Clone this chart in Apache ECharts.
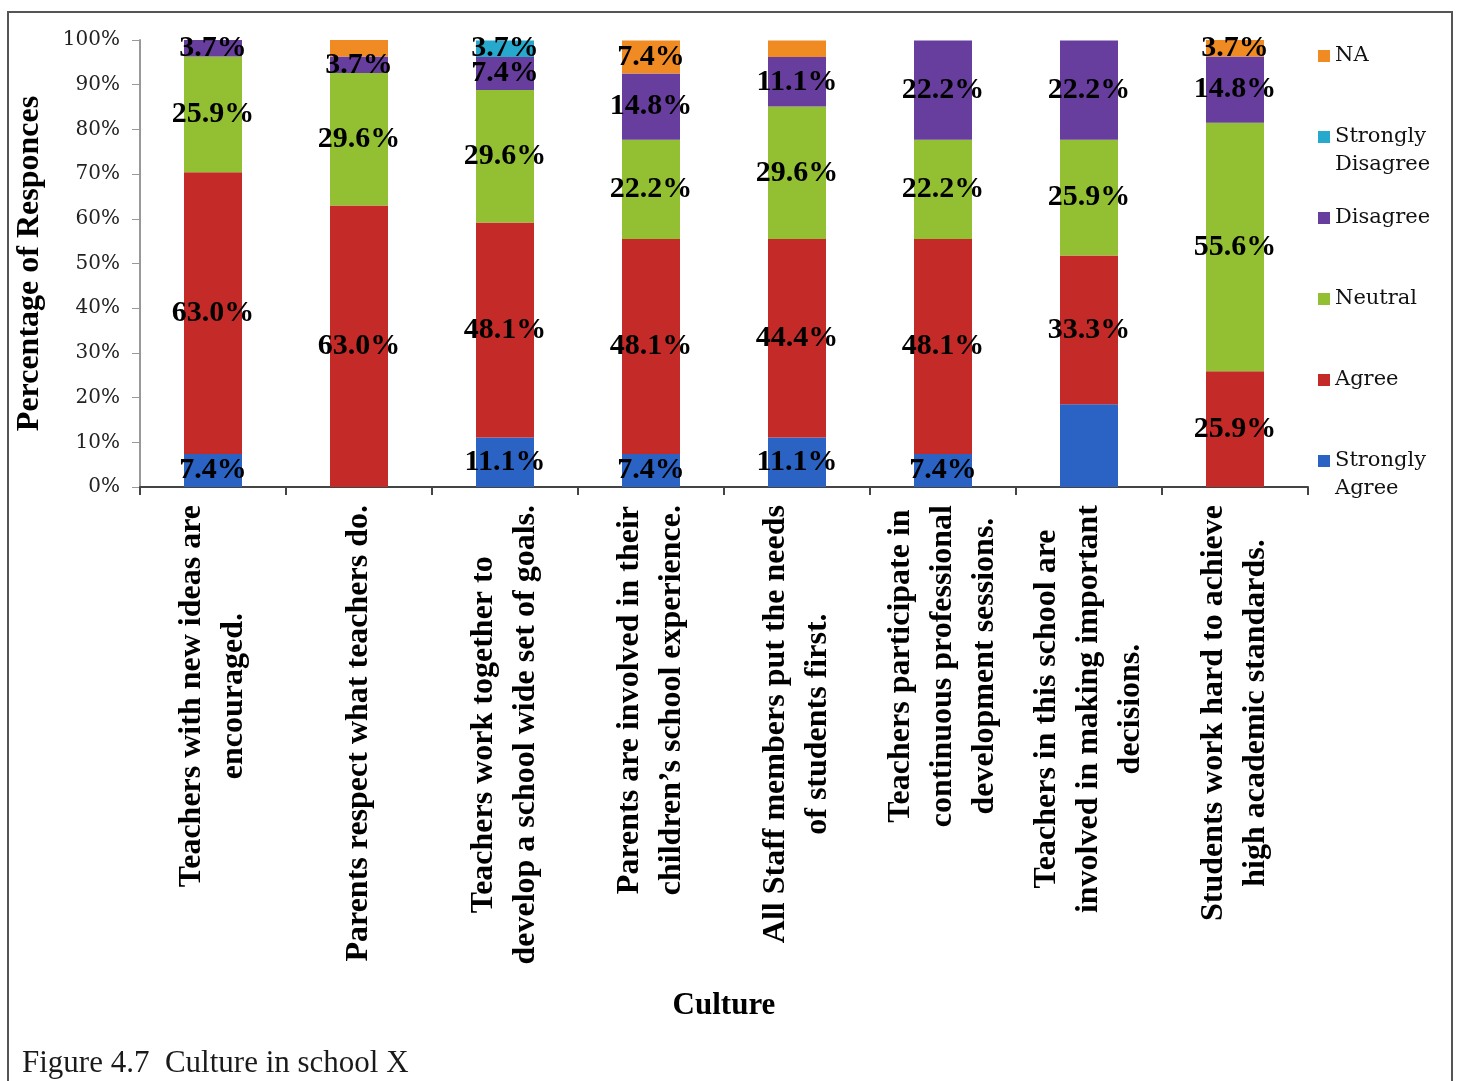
<!DOCTYPE html>
<html>
<head>
<meta charset="utf-8">
<style>
  html, body { margin: 0; padding: 0; background: #fff; }
  #chart { width: 1459px; height: 1081px; }
</style>
<script src="https://cdn.jsdelivr.net/npm/echarts@6/dist/echarts.min.js"></script>
</head>
<body>
<div id="chart"></div>
<script>
const categories = [
  'Teachers with new ideas are\nencouraged.',
  'Parents respect what teachers do.',
  'Teachers work together to\ndevelop a school wide set of goals.',
  'Parents are involved in their\nchildren\u2019s school experience.',
  'All Staff members put the needs\nof students first.',
  'Teachers participate in\ncontinuous professional\ndevelopment sessions.',
  'Teachers in this school are\ninvolved in making important\ndecisions.',
  'Students work hard to achieve\nhigh academic standards.'
];
const seriesNames = ['Strongly Agree', 'Agree', 'Neutral', 'Disagree', 'Strongly Disagree', 'NA'];
const stronglyAgree    = [7.4, 0, 11.1, 7.4, 11.1, 7.4, 18.5, 0];
const agree            = [63.0, 63.0, 48.1, 48.1, 44.4, 48.1, 33.3, 25.9];
const neutral          = [25.9, 29.6, 29.6, 22.2, 29.6, 22.2, 25.9, 55.6];
const disagree         = [3.7, 3.7, 7.4, 14.8, 11.1, 22.2, 22.2, 14.8];
const stronglyDisagree = [0, 0, 3.7, 0, 0, 0, 0, 0];
const na               = [0, 3.7, 0, 7.4, 3.7, 0, 0, 3.7];
const unlabeled = { 'Strongly Agree': [6], 'NA': [1, 4] };
const legendOrder = ['NA', 'Strongly Disagree', 'Disagree', 'Neutral', 'Agree', 'Strongly Agree'];
const yAxisTitle = 'Percentage of Responces';
const xAxisTitle = 'Culture';
const caption = 'Figure 4.7  Culture in school X';

const values = [stronglyAgree, agree, neutral, disagree, stronglyDisagree, na];
const colors = {
  'Strongly Agree': '#2A63C3',
  'Agree': '#C42A27',
  'Neutral': '#93BF33',
  'Disagree': '#673E9D',
  'Strongly Disagree': '#27A9CD',
  'NA': '#F08A22'
};
const serif = '"Liberation Serif", "Times New Roman", serif';
const wideSerif = '"DejaVu Serif", serif';

const series = seriesNames.map((name, si) => ({
  name: name,
  type: 'bar',
  stack: 'total',
  barWidth: 58,
  itemStyle: { color: colors[name] },
  label: {
    show: true,
    position: 'inside',
    color: '#000',
    fontFamily: serif,
    fontWeight: 'bold',
    fontSize: 30,
    textBorderWidth: 0,
    formatter: p => {
      if (!p.value) return '';
      if ((unlabeled[name] || []).indexOf(p.dataIndex) >= 0) return '';
      return p.value.toFixed(1) + '%';
    }
  },
  emphasis: { disabled: true },
  data: values[si]
}));

const legendCenters = [53, 134, 215, 296, 377, 458];
const legends = legendOrder.map((name, i) => {
  const twoLine = name.indexOf(' ') >= 0;
  return {
    data: [name],
    orient: 'vertical',
    left: 1318,
    top: legendCenters[i] - (twoLine ? 42 : 14) + 3,
    padding: 0,
    itemWidth: 12,
    itemHeight: 12,
    itemGap: 0,
    icon: 'rect',
    formatter: n => (n.indexOf(' ') >= 0 ? '\n' + n.replace(' ', '\n') : n),
    textStyle: {
      fontFamily: wideSerif,
      fontSize: 21,
      lineHeight: 28,
      color: '#111'
    }
  };
});

const chart = echarts.init(document.getElementById('chart'), null, { renderer: 'canvas' });
chart.setOption({
  backgroundColor: '#fff',
  animation: false,
  title: {
    text: caption,
    left: 22,
    top: 1048,
    padding: 0,
    textStyle: { fontFamily: serif, fontWeight: 'normal', fontSize: 31, color: '#1a1a1a' }
  },
  legend: legends,
  grid: { left: 140, right: 151, top: 40, bottom: 594, containLabel: false, outerBoundsMode: 'none' },
  xAxis: {
    type: 'category',
    data: categories,
    name: xAxisTitle,
    nameLocation: 'middle',
    nameGap: 503,
    nameTextStyle: { fontFamily: serif, fontWeight: 'bold', fontSize: 31, color: '#000' },
    axisLine: { lineStyle: { color: '#444', width: 2 } },
    axisTick: { show: true, length: 8, lineStyle: { color: '#444', width: 2 } },
    axisLabel: {
      interval: 0,
      rotate: 90,
      margin: 18,
      fontFamily: serif,
      fontWeight: 'bold',
      fontSize: 32,
      lineHeight: 42,
      color: '#000',
      formatter: v => v.split('\n').map(l => '{c|' + l + '}').join('\n'),
      rich: {
        c: { align: 'center', fontFamily: serif, fontWeight: 'bold', fontSize: 32, lineHeight: 42, color: '#000' }
      }
    }
  },
  yAxis: {
    type: 'value',
    min: 0,
    max: 100,
    interval: 10,
    name: yAxisTitle,
    nameLocation: 'middle',
    nameGap: 94,
    nameTextStyle: { fontFamily: serif, fontWeight: 'bold', fontSize: 32, color: '#000' },
    axisLine: { show: true, lineStyle: { color: '#999', width: 2 } },
    axisTick: { show: true, length: 8, lineStyle: { color: '#999', width: 1 } },
    splitLine: { show: false },
    axisLabel: {
      margin: 20,
      fontFamily: wideSerif,
      fontSize: 20,
      color: '#222',
      formatter: '{value}%'
    }
  },
  graphic: [{
    type: 'rect',
    silent: true,
    shape: { x: 8, y: 12, width: 1444, height: 1100 },
    style: { fill: 'none', stroke: '#555', lineWidth: 2 }
  }],
  series: series
});
</script>
</body>
</html>
